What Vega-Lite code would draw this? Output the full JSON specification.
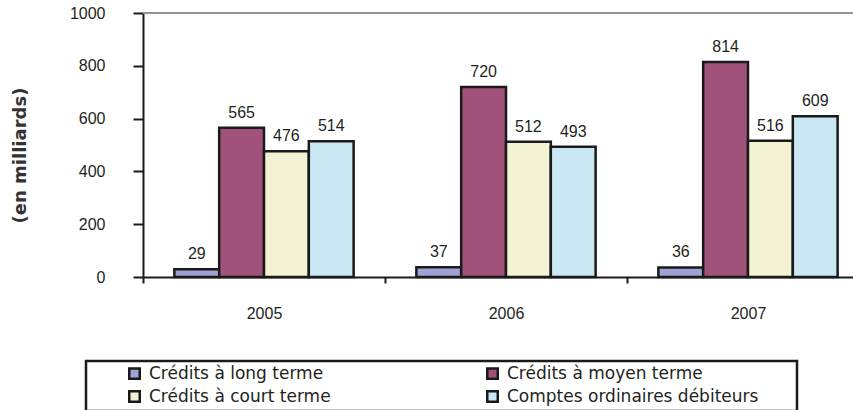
{
  "$schema": "https://vega.github.io/schema/vega-lite/v6.json",
  "width": 726,
  "height": 264,
  "autosize": {"type": "none"},
  "padding": {"left": 143, "top": 13, "right": 0, "bottom": 133},
  "background": "white",
  "config": {"view": {"stroke": null}, "font": "Liberation Sans"},
  "data": {
    "values": [
      {"annee": "2005", "type": "Crédits à long terme", "valeur": 29},
      {"annee": "2005", "type": "Crédits à moyen terme", "valeur": 565},
      {"annee": "2005", "type": "Crédits à court terme", "valeur": 476},
      {"annee": "2005", "type": "Comptes ordinaires débiteurs", "valeur": 514},
      {"annee": "2006", "type": "Crédits à long terme", "valeur": 37},
      {"annee": "2006", "type": "Crédits à moyen terme", "valeur": 720},
      {"annee": "2006", "type": "Crédits à court terme", "valeur": 512},
      {"annee": "2006", "type": "Comptes ordinaires débiteurs", "valeur": 493},
      {"annee": "2007", "type": "Crédits à long terme", "valeur": 36},
      {"annee": "2007", "type": "Crédits à moyen terme", "valeur": 814},
      {"annee": "2007", "type": "Crédits à court terme", "valeur": 516},
      {"annee": "2007", "type": "Comptes ordinaires débiteurs", "valeur": 609}
    ]
  },
  "layer": [
    {
      "mark": {"type": "rule", "color": "#8c959a", "strokeWidth": 2},
      "encoding": {"y": {"datum": 1000, "type": "quantitative"}}
    },
    {
      "mark": {"type": "bar", "stroke": "#1a1a1a", "strokeWidth": 2.5},
      "encoding": {
        "x": {
          "field": "annee", "type": "nominal",
          "scale": {"paddingInner": 0, "paddingOuter": 0},
          "axis": {
            "title": null, "labelAngle": 0, "labelFontSize": 16, "labelColor": "#231f20",
            "domainColor": "#1a1a1a", "domainWidth": 2, "tickColor": "#1a1a1a", "tickWidth": 2,
            "tickSize": 6, "tickBand": "extent", "labelPadding": 22
          }
        },
        "xOffset": {
          "field": "type", "type": "nominal",
          "sort": ["Crédits à long terme", "Crédits à moyen terme", "Crédits à court terme", "Comptes ordinaires débiteurs"],
          "scale": {"paddingInner": 0, "paddingOuter": 0.7}
        },
        "y": {
          "field": "valeur", "type": "quantitative",
          "scale": {"domain": [0, 1000], "nice": false},
          "axis": {
            "values": [0, 200, 400, 600, 800, 1000], "grid": false, "format": "d",
            "labelFontSize": 16, "labelColor": "#231f20", "labelPadding": 28,
            "domainColor": "#1a1a1a", "domainWidth": 2, "tickColor": "#1a1a1a", "tickWidth": 2, "tickSize": 10,
            "title": "(en milliards)", "titleFont": "DejaVu Sans", "titleFontSize": 18, "titleFontWeight": "bold",
            "titleColor": "#333333", "titleX": -123, "titleY": 142, "titleAngle": -90, "titleAlign": "center", "titleBaseline": "middle"
          }
        },
        "color": {
          "field": "type", "type": "nominal",
          "scale": {
            "domain": ["Crédits à long terme", "Crédits à moyen terme", "Crédits à court terme", "Comptes ordinaires débiteurs"],
            "range": ["#9ea3d4", "#a0527a", "#f3f2d3", "#cae8f3"]
          },
          "legend": {
            "orient": "none", "legendX": -57, "legendY": 348, "columns": 2, "direction": "horizontal",
            "title": "\u00a0", "titleOrient": "right", "titlePadding": 35,
            "symbolType": "square", "symbolSize": 110, "symbolStrokeColor": "#1a1a1a", "symbolStrokeWidth": 2.5,
            "symbolOpacity": 1, "symbolOffset": 36,
            "labelFont": "DejaVu Sans", "labelFontSize": 17, "labelColor": "#231f20", "labelOffset": 6, "labelLimit": 400,
            "columnPadding": 117, "rowPadding": 2, "padding": 4,
            "strokeColor": "#1a1a1a",
            "encode": {"legend": {"update": {"strokeWidth": {"value": 2.5}}}}
          }
        }
      }
    },
    {
      "mark": {"type": "text", "fontSize": 16, "color": "#231f20", "baseline": "middle", "dy": -15},
      "encoding": {
        "x": {"field": "annee", "type": "nominal"},
        "xOffset": {
          "field": "type", "type": "nominal",
          "sort": ["Crédits à long terme", "Crédits à moyen terme", "Crédits à court terme", "Comptes ordinaires débiteurs"]
        },
        "y": {"field": "valeur", "type": "quantitative"},
        "text": {"field": "valeur", "type": "quantitative"}
      }
    }
  ]
}
